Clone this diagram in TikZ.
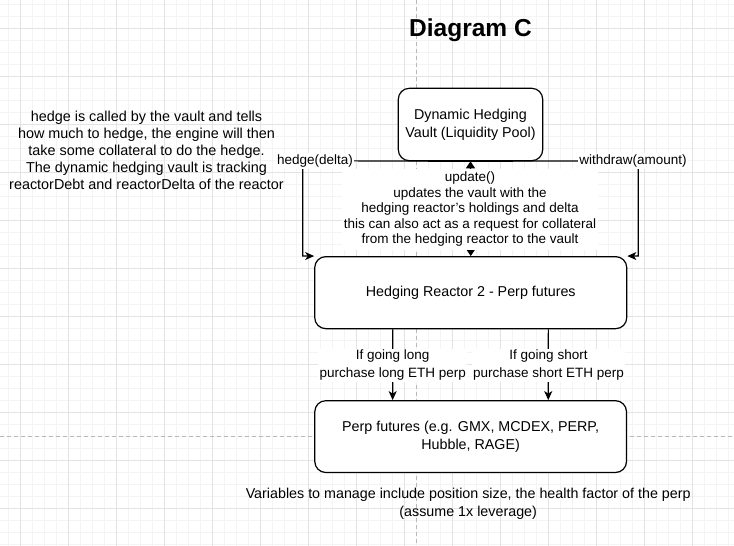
\documentclass[tikz,border=0pt]{standalone}
\usepackage{fontspec}
\setmainfont{Liberation Sans}
\usetikzlibrary{arrows.meta,calc}
\definecolor{gridminor}{HTML}{F4F4F4}
\definecolor{gridmajor}{HTML}{E3E3E3}
\definecolor{guide}{HTML}{B8B8B8}
\tikzset{
  box/.style={draw=black, line width=1.2pt, rounded corners=11pt, fill=white, align=center, inner sep=0pt, font=\fontsize{14.3}{18}\selectfont},
  arr/.style={draw=black, line width=1.2pt, -{Stealth[length=9pt,width=8pt,inset=2.5pt]}},
  biarr/.style={draw=black, line width=1.2pt, {Triangle[length=7pt,width=9pt]}-{Triangle[length=7pt,width=9pt]}},
  elabel/.style={fill=white, align=center, inner sep=1.5pt, font=\fontsize{13.5}{15.5}\selectfont},
  plabel/.style={fill=white, align=center, inner sep=1.5pt, font=\fontsize{13.5}{18}\selectfont},
  note/.style={align=center, inner sep=0pt, font=\fontsize{14.4}{17}\selectfont},
}
\begin{document}
\begin{tikzpicture}[x=1pt,y=-1pt]
\useasboundingbox (0,0) rectangle (734,546);
\fill[white] (0,0) rectangle (734,546);
% grid
\foreach \x in {8.7,20.7,...,734} \draw[gridminor, line width=0.8pt] (\x,0) -- (\x,546);
\foreach \y in {4.3,16.3,...,546} \draw[gridminor, line width=0.8pt] (0,\y) -- (734,\y);
\foreach \x in {20.7,68.7,...,734} \draw[gridmajor, line width=0.9pt] (\x,0) -- (\x,546);
\foreach \y in {28.3,76.3,...,546} \draw[gridmajor, line width=0.9pt] (0,\y) -- (734,\y);
% page guides
\draw[guide, line width=0.8pt, dash pattern=on 4pt off 3pt] (416,0) -- (416,546);
\draw[guide, line width=0.8pt, dash pattern=on 4pt off 3pt] (0,436) -- (734,436);

% title
\node[inner sep=0pt, font=\fontsize{24.5}{28}\selectfont\bfseries] (title) at (470.5,30.5) {Diagram C};

% boxes
\node[box, minimum width=144.4pt, minimum height=72.4pt] (vault) at (470.5,124.5) {Dynamic Hedging\\Vault (Liquidity Pool)};
\node[box, minimum width=312pt, minimum height=72pt] (reactor) at (470.75,292.65) {Hedging Reactor 2 - Perp futures};
\node[box, minimum width=311.7pt, minimum height=71.8pt] (perp) at (470.65,436.6) {Perp futures (e.g. GMX, MCDEX, PERP,\\Hubble, RAGE)};

% connectors
\coordinate (hc) at (302.7,160.7);
\coordinate (wc) at (638.3,160.7);
\draw[arr] (vault.south) -- (hc) |- (reactor.north west);
\draw[arr] (vault.south) -- (wc) |- (reactor.north east);
\draw[biarr] (vault.south) -- (reactor.north);
\draw[arr] ([xshift=-78pt]reactor.south) -- ([xshift=-78pt]perp.north);
\draw[arr] ([xshift=77.6pt]reactor.south) -- ([xshift=77.6pt]perp.north);

% labels
\node[elabel] (lhedge) at (315,161) {hedge(delta)};
\node[elabel] (lwithdraw) at (633,161) {withdraw(amount)};
\node[elabel, inner xsep=2pt, inner ysep=3pt] (lupdate) at (470,209.5) {update()\\updates the vault with the\\hedging reactor's holdings and delta\\this can also act as a request for collateral\\from the hedging reactor to the vault};
\node[plabel] (llong) at (392.7,365.5) {If going long\\purchase long ETH perp};
\node[plabel] (lshort) at (548.5,365.5) {If going short\\purchase short ETH perp};

% notes
\node[note] (leftnote) at (146.5,150) {hedge is called by the vault and tells\\how much to hedge, the engine will then\\take some collateral to do the hedge.\\The dynamic hedging vault is tracking\\reactorDebt and reactorDelta of the reactor};
\node[note, font=\fontsize{14.3}{18}\selectfont] (bottomnote) at (468.2,504) {Variables to manage include position size, the health factor of the perp\\(assume 1x leverage)};
\end{tikzpicture}
\end{document}
